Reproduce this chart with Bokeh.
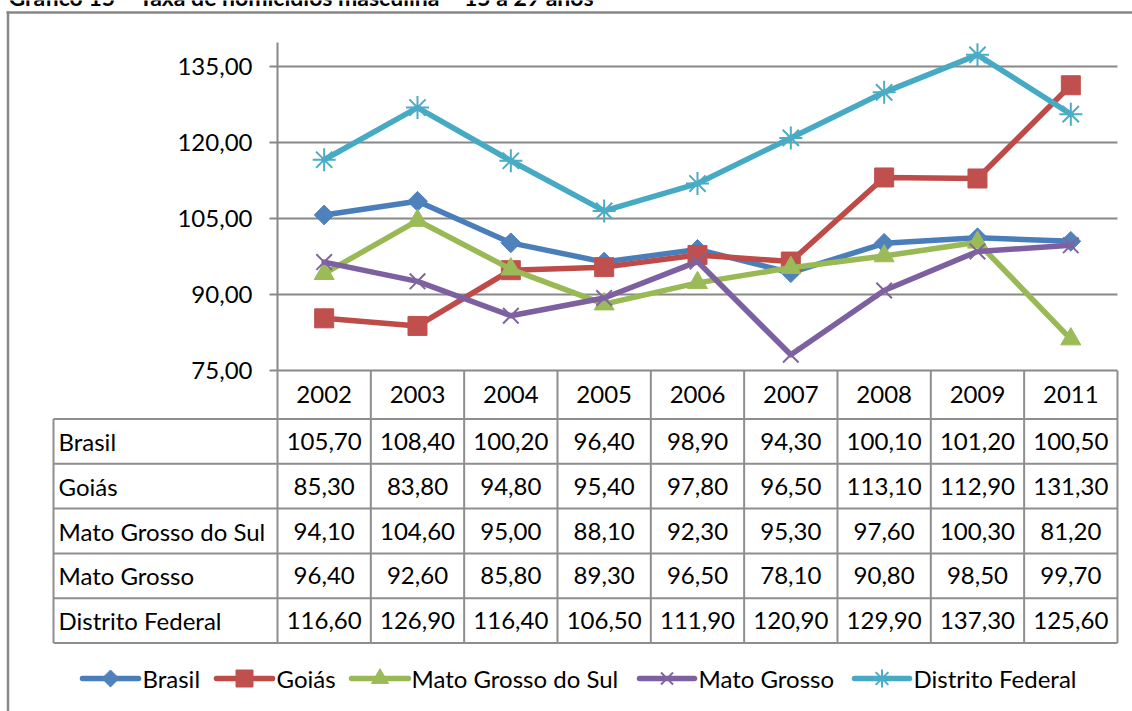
import math
from bokeh.plotting import figure
from bokeh.models import Range1d
from bokeh.core.properties import value
from bokeh.embed import file_html
from bokeh.resources import INLINE

# ---------------- data ----------------
title_text = "Gráfico 15 – Taxa de homicídios masculina – 15 a 29 anos"
years = ["2002", "2003", "2004", "2005", "2006", "2007", "2008", "2009", "2011"]
series_names = ["Brasil", "Goiás", "Mato Grosso do Sul", "Mato Grosso", "Distrito Federal"]
brasil = [105.70, 108.40, 100.20, 96.40, 98.90, 94.30, 100.10, 101.20, 100.50]
goias = [85.30, 83.80, 94.80, 95.40, 97.80, 96.50, 113.10, 112.90, 131.30]
mato_grosso_sul = [94.10, 104.60, 95.00, 88.10, 92.30, 95.30, 97.60, 100.30, 81.20]
mato_grosso = [96.40, 92.60, 85.80, 89.30, 96.50, 78.10, 90.80, 98.50, 99.70]
distrito_federal = [116.60, 126.90, 116.40, 106.50, 111.90, 120.90, 129.90, 137.30, 125.60]
y_ticks = [75, 90, 105, 120, 135]

series_values = [brasil, goias, mato_grosso_sul, mato_grosso, distrito_federal]

# ---------------- styles / layout ----------------
W, H = 1132, 711
FONT = "Lato"
FS = "24px"
line_colors = ["#4A7EBB", "#BE4B48", "#98B954", "#7D60A0", "#46AAC5"]
fill_colors = ["#4F81BD", "#C0504D", "#9BBB59", "#8064A2", "#4BACC6"]
markers = ["square", "square", "triangle", "x", "asterisk"]
marker_sizes = [14, 19, 20, 22, 23]
marker_angles = [math.pi / 4, 0, 0, 0, 0]
legend_marker_sizes = [12, 17, 17, 17, 18]
GRID = "#888888"
TABLE = "#8E8E8E"

plot_left = 277.0
col_w = 93.33
n = len(years)
plot_right = plot_left + n * col_w
y_base = 370.0          # pixel of lowest tick (75)
ppu = 76.0 / 15.0       # pixels per unit
axis_top = 42.0
row_h = 44.8
header_top = y_base
header_bottom = 418.5
label_left = 53.0
table_bottom = header_bottom + len(series_names) * row_h

def val_at(fy):
    return y_ticks[0] + (y_base - fy) / ppu

def idx_at(fx):
    return (fx - plot_left) / col_w - 0.5

p = figure(width=W, height=H, x_range=Range1d(0, W), y_range=Range1d(H, 0),
           x_axis_type=None, y_axis_type=None, toolbar_location=None,
           output_backend="svg", min_border=0, outline_line_color=None)
p.extra_y_ranges = {"val": Range1d(start=val_at(H), end=val_at(0))}
p.extra_x_ranges = {"cat": Range1d(start=idx_at(0), end=idx_at(W))}

# chart border (outer)
p.segment(x0=[7.5, 6], y0=[11, 12], x1=[7.5, W], y1=[H, 12], line_color="#878787", line_width=2.5)

# title (cut at top as in source)
p.text(x=[8], y=[-4], text=[title_text], text_font=value(FONT), text_font_size="23px",
       text_font_style="bold", text_baseline="middle", text_align="left", text_color="#000000")

# gridlines
p.segment(x0=[plot_left] * (len(y_ticks) - 1), x1=[plot_right] * (len(y_ticks) - 1),
          y0=y_ticks[1:], y1=y_ticks[1:], y_range_name="val", line_color=GRID, line_width=2)
# y axis line + ticks
p.segment(x0=[plot_left], x1=[plot_left], y0=[axis_top], y1=[header_top], line_color=GRID, line_width=2)
p.segment(x0=[plot_left - 8] * len(y_ticks), x1=[plot_left] * len(y_ticks),
          y0=y_ticks, y1=y_ticks, y_range_name="val", line_color=GRID, line_width=2)
# x axis line (top of table header)
p.segment(x0=[plot_left], x1=[plot_right], y0=[y_ticks[0]], y1=[y_ticks[0]], y_range_name="val",
          line_color=GRID, line_width=2)

# tick labels
p.text(x=[plot_left - 25] * len(y_ticks), y=y_ticks,
       text=[f"{t:.2f}".replace(".", ",") for t in y_ticks], y_range_name="val",
       text_font=value(FONT), text_font_size=FS, text_align="right", text_baseline="middle",
       text_color="#000000")

# table lines
bounds = [i - 0.5 for i in range(n + 1)]
p.segment(x0=bounds, x1=bounds, y0=[header_top] * (n + 1), y1=[table_bottom] * (n + 1),
          x_range_name="cat", line_color=TABLE, line_width=2)
p.segment(x0=[label_left], x1=[label_left], y0=[header_bottom], y1=[table_bottom],
          line_color=TABLE, line_width=2)
row_lines = [header_bottom + k * row_h for k in range(len(series_names) + 1)]
p.segment(x0=[label_left] * len(row_lines), x1=[plot_right] * len(row_lines),
          y0=row_lines, y1=row_lines, line_color=TABLE, line_width=2)

# table text
idx = list(range(n))
p.text(x=idx, y=[(header_top + header_bottom) / 2] * n, text=years, x_range_name="cat",
       text_font=value(FONT), text_font_size=FS, text_align="center", text_baseline="middle",
       text_color="#000000")
for r, (name, vals) in enumerate(zip(series_names, series_values)):
    ymid = header_bottom + (r + 0.5) * row_h
    p.text(x=[label_left + 5], y=[ymid], text=[name], text_font=value(FONT), text_font_size=FS,
           text_align="left", text_baseline="middle", text_color="#000000")
    p.text(x=idx, y=[ymid] * n, text=[f"{v:.2f}".replace(".", ",") for v in vals],
           x_range_name="cat", text_font=value(FONT), text_font_size=FS, text_align="center",
           text_baseline="middle", text_color="#000000")

# series
for k, vals in enumerate(series_values):
    p.line(x=idx, y=vals, x_range_name="cat", y_range_name="val", line_color=line_colors[k],
           line_width=5.5, line_join="round", line_cap="round")
    lw = 2 if markers[k] in ("x", "asterisk") else 1
    p.scatter(x=idx, y=vals, x_range_name="cat", y_range_name="val", marker=markers[k],
              size=marker_sizes[k], angle=marker_angles[k], fill_color=fill_colors[k],
              line_color=fill_colors[k], line_width=lw)

# legend (manual)
leg_y = 678
leg_lines = [(82, 138), (216, 272), (351, 408), (639, 694), (854, 909)]
leg_text_x = [142, 276, 411, 698, 913]
for k, name in enumerate(series_names):
    x0, x1 = leg_lines[k]
    p.segment(x0=[x0], x1=[x1], y0=[leg_y], y1=[leg_y], line_color=line_colors[k],
              line_width=5.5, line_cap="round")
    lw = 2 if markers[k] in ("x", "asterisk") else 1
    p.scatter(x=[(x0 + x1) / 2], y=[leg_y], marker=markers[k], size=legend_marker_sizes[k],
              angle=marker_angles[k], fill_color=fill_colors[k], line_color=fill_colors[k],
              line_width=lw)
    p.text(x=[leg_text_x[k]], y=[leg_y], text=[name], text_font=value(FONT), text_font_size=FS,
           text_align="left", text_baseline="middle", text_color="#000000")

open("out.html", "w").write(file_html(p, INLINE))
